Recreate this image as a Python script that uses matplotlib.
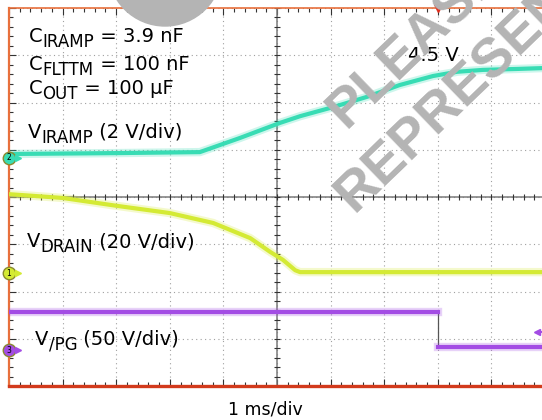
import numpy as np
import matplotlib
matplotlib.use('Agg')
import matplotlib.pyplot as plt
import matplotlib.transforms as mtransforms
from matplotlib.patches import Circle

plt.rcParams['font.family'] = 'DejaVu Sans'

# scope readings in screen divisions (x: 1 ms/div, y: 0 = centre line)
t_iramp = [0, 2.07, 3.56, 4.31, 5.06, 5.43, 6.04, 6.68, 7.29, 7.91, 8.36, 8.84, 9.48, 10]
v_iramp = [0.91, 0.93, 0.95, 1.25, 1.57, 1.71, 1.90, 2.12, 2.37, 2.56, 2.65, 2.69, 2.71, 2.73]
t_drain = [0, 1.0, 2.03, 3.0, 3.81, 4.5, 4.87, 5.11, 5.34, 5.43, 10]
v_drain = [0.06, -0.02, -0.19, -0.34, -0.55, -0.87, -1.16, -1.33, -1.55, -1.59, -1.59]
t_pg = [0, 8.0, 8.0, 10]
v_pg = [-2.43, -2.43, -3.17, -3.17]

gnd_marks = [('2', 0.83), ('1', -1.61), ('3', -3.24)]
trig_time = 8.0
trig_level = -2.86

c_iramp = '#38dcb4'
c_drain = '#d4ea34'
c_pg = '#a34ce4'

W, H = 542, 420
fig = plt.figure(figsize=(W / 100, H / 100), dpi=100)
x0, y_top, y_bot, div_px = 9, 8, 386, 53.6
ax = fig.add_axes([x0 / W, 1 - y_bot / H, 10 * div_px / W, (y_bot - y_top) / H])
ax.set_xlim(0, 10)
ax.set_ylim(-4, 4)

# frame
ax.spines['right'].set_visible(False)
ax.spines['left'].set_color('#e8703c')
ax.spines['left'].set_linewidth(1.6)
ax.spines['top'].set_color('#e8703c')
ax.spines['top'].set_linewidth(1.2)
ax.spines['bottom'].set_color('#d23a1c')
ax.spines['bottom'].set_linewidth(2.4)

ax.set_xticks(np.arange(0, 10.01, 1))
ax.set_xticks(np.arange(0, 10.01, 0.2), minor=True)
ax.set_yticks(np.arange(-4, 4.01, 1))
ax.set_yticks(np.arange(-4, 4.01, 0.2), minor=True)
ax.tick_params(which='both', direction='in', top=True, bottom=True, left=True, right=False,
               labelbottom=False, labelleft=False, color='#333333', width=0.8)
ax.tick_params(which='major', length=5)
ax.tick_params(which='minor', length=3)
ax.grid(which='major', ls=(0, (1, 3)), color='#a0a0a0', lw=0.8)

# centre cross with its own ticks
ax.axhline(0, color='#7a7a7a', lw=1.1, zorder=2)
ax.axvline(5, color='#7a7a7a', lw=1.1, zorder=2)
xt = np.arange(0, 10.01, 0.2)
yt = np.arange(-4, 4.01, 0.2)
ax.plot(xt, np.zeros_like(xt), ls='none', marker='|', ms=5, mew=0.8, color='#333333', zorder=2)
ax.plot(np.full_like(yt, 5), yt, ls='none', marker='_', ms=5, mew=0.8, color='#333333', zorder=2)

# traces
for t, v, c in [(t_iramp, v_iramp, c_iramp), (t_drain, v_drain, c_drain)]:
    ax.plot(t, v, color=c, lw=6, alpha=0.25, zorder=3)
    ax.plot(t, v, color=c, lw=3, zorder=4)
ax.plot(t_pg, v_pg, color='#555555', lw=0.9, zorder=3)
for seg in [slice(0, 2), slice(2, 4)]:
    ax.plot(t_pg[seg], v_pg[seg], color=c_pg, lw=6, alpha=0.25, zorder=3)
    ax.plot(t_pg[seg], v_pg[seg], color=c_pg, lw=3, zorder=4)

# trigger markers
ax.plot([9.85, 10], [trig_level, trig_level], color=c_pg, lw=1.5, zorder=4)
ax.plot(9.85, trig_level, marker='<', ms=4, color=c_pg, zorder=4)
ax.plot(trig_time, 4, marker='v', ms=6, color='#e03020', clip_on=False, zorder=6)

# channel ground markers
for (num, lvl), c in zip(gnd_marks, [c_iramp, c_drain, c_pg]):
    ax.plot(0, lvl, 'o', ms=9, mfc=c, mec='#8a8a30', mew=1, clip_on=False, zorder=6)
    ax.plot(0.17, lvl, '>', ms=4, color=c, clip_on=False, zorder=6)
    ax.text(0, lvl, num, fontsize=5.5, ha='center', va='center', zorder=7)

# annotations with subscripts placed piece by piece
renderer = fig.canvas.get_renderer()
FS, SUB = 14, 12


def label(x, y, main, sub, rest):
    dx = 0
    for s, size, dy in [(main, FS, 0), (sub, SUB, -5), (rest, FS, 0)]:
        tr = mtransforms.offset_copy(ax.transData, fig=fig, x=dx, y=dy, units='dots')
        t = ax.text(x, y, s, fontsize=size, va='baseline', ha='left', transform=tr, zorder=8)
        dx += t.get_window_extent(renderer).width


label(0.37, 3.28, 'C', 'IRAMP', ' = 3.9 nF')
label(0.37, 2.69, 'C', 'FLTTM', ' = 100 nF')
label(0.37, 2.18, 'C', 'OUT', ' = 100 µF')
label(0.35, 1.25, 'V', 'IRAMP', ' (2 V/div)')
label(0.34, -1.06, 'V', 'DRAIN', ' (20 V/div)')
label(0.49, -3.13, 'V', '/PG', ' (50 V/div)')
ax.text(7.44, 2.88, '4.5 V', fontsize=FS, va='baseline', zorder=8)

fig.text(265 / W, 1 - 414 / H, '1 ms/div', fontsize=12.5, ha='center', va='baseline')

# watermark
wm = dict(family='Liberation Sans', fontsize=40, fontweight='bold', color='#b4b4b4',
          rotation=44, rotation_mode='anchor', ha='left', va='baseline', zorder=20)
fig.text(346 / W, 1 - 130 / H, 'PLEASE', **wm)
fig.text(354 / W, 1 - 214 / H, 'REPRESENT', **wm)
fig.patches.append(Circle((165, H + 31), 57, transform=mtransforms.IdentityTransform(),
                          color='#b4b4b4', zorder=20))

fig.savefig('out.png', dpi=100)
